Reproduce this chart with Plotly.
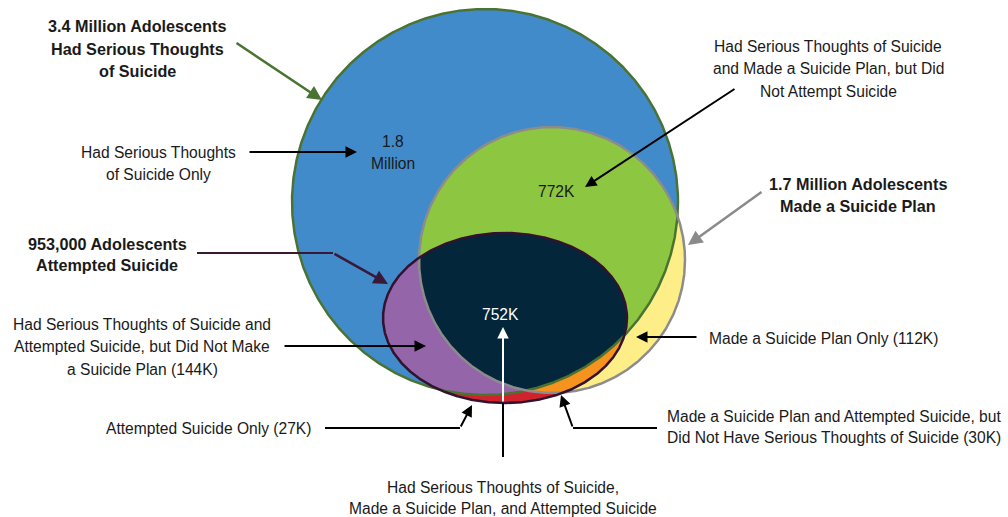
import numpy as np
import plotly.graph_objects as go

# ---- data ----
set_names = ["Had Serious Thoughts of Suicide", "Made a Suicide Plan", "Attempted Suicide"]
set_totals = ["3.4 Million", "1.7 Million", "953,000"]
region_values = {
    "thoughts_only": "1.8<br>Million",
    "thoughts_plan": "772K",
    "all_three": "752K",
    "plan_only": "112K",
    "thoughts_attempt": "144K",
    "attempt_only": "27K",
    "plan_attempt": "30K",
}

# ---- geometry of the three sets (page pixel space) ----
blue_c = (485, 202, 193, 193)
plan_c = (552, 260, 133, 133)
att_c = (505, 318, 122, 85)

C_BLUE = "#428BCA"
C_GREEN = "#8DC641"
C_YELLOW = "#FEEE87"
C_PURPLE = "#9565AA"
C_NAVY = "#03263B"
C_RED = "#D0232B"
C_ORANGE = "#F6921E"

FONT = "Liberation Sans, Arial, Helvetica, sans-serif"
REG = 15.6
BOLD = 16.2


def boundary(s, n=1440):
    cx, cy, rx, ry = s
    t = np.linspace(0, 2 * np.pi, n, endpoint=False)
    return cx + rx * np.cos(t), cy + ry * np.sin(t)


def inside(s, x, y):
    cx, cy, rx, ry = s
    return ((x - cx) / rx) ** 2 + ((y - cy) / ry) ** 2 <= 1 + 1e-9


def intersect(shapes):
    xs, ys = [], []
    for i, s in enumerate(shapes):
        bx, by = boundary(s)
        m = np.ones_like(bx, dtype=bool)
        for j, o in enumerate(shapes):
            if j != i:
                m &= inside(o, bx, by)
        xs.append(bx[m])
        ys.append(by[m])
    x = np.concatenate(xs)
    y = np.concatenate(ys)
    mx, my = x.mean(), y.mean()
    order = np.argsort(np.arctan2(y - my, x - mx))
    x, y = x[order], y[order]
    return np.append(x, x[0]), np.append(y, y[0])


fig = go.Figure()


def fill(x, y, color):
    fig.add_trace(go.Scatter(x=x, y=y, mode="lines", fill="toself", fillcolor=color,
                             line=dict(width=0, color=color), hoverinfo="skip", showlegend=False))


def outline(s, color, w=2.5):
    x, y = boundary(s)
    fig.add_trace(go.Scatter(x=np.append(x, x[0]), y=np.append(y, y[0]), mode="lines",
                             line=dict(width=w, color=color), hoverinfo="skip", showlegend=False))


fill(*intersect([plan_c]), C_YELLOW)
fill(*intersect([att_c]), C_RED)
fill(*intersect([plan_c, att_c]), C_ORANGE)
fill(*intersect([blue_c]), C_BLUE)
fill(*intersect([blue_c, plan_c]), C_GREEN)
fill(*intersect([blue_c, att_c]), C_PURPLE)
fill(*intersect([blue_c, plan_c, att_c]), C_NAVY)

outline(blue_c, "#4A7332")
outline(plan_c, "#8C8C8C")
outline(att_c, "#33122F")


def polyline(xs, ys, color, w=2):
    fig.add_trace(go.Scatter(x=xs, y=ys, mode="lines", line=dict(width=w, color=color),
                             hoverinfo="skip", showlegend=False))


def arrow(tail, head, color="black", w=2):
    fig.add_annotation(x=head[0], y=head[1], ax=tail[0], ay=tail[1], xref="x", yref="y",
                       axref="x", ayref="y", text="", showarrow=True, arrowhead=2,
                       arrowsize=1.15, arrowwidth=w, arrowcolor=color, standoff=0)


def label(x, y0, text, dy=22, size=REG, bold=False, color="#1a1a1a", xanchor="center"):
    for k, line in enumerate(text.split("<br>")):
        t = f"<b>{line}</b>" if bold else line
        fig.add_annotation(x=x, y=y0 + k * dy, xref="x", yref="y", text=t, showarrow=False,
                           font=dict(family=FONT, size=size, color=color),
                           xanchor=xanchor, yanchor="middle")


# bent leader lines
polyline([197, 333], [253, 253], "#3A1838")
polyline([325, 460], [428, 428], "black")
polyline([657, 573], [428, 428], "black")
polyline([503, 503], [457, 403], "black")

arrow((235, 42), (322, 100), "#4A7332", 2.5)
arrow((248, 152), (357, 152))
arrow((736, 88), (585, 187))
arrow((763, 191), (688, 245), "#8A8A8A", 2.5)
arrow((333, 253), (388, 284), "#3A1838", 2.5)
arrow((283, 346), (426, 346))
arrow((698, 337), (636, 337))
arrow((460, 428), (472, 405))
arrow((573, 428), (561, 395))
arrow((503, 403), (503, 327), "white")

# labels
label(137, 26, f"{set_totals[0]} Adolescents<br>Had Serious Thoughts<br>of Suicide", 22.5, BOLD, True)
label(158, 152, "Had Serious Thoughts<br>of Suicide Only")
label(393, 141, region_values["thoughts_only"])
label(556, 191, region_values["thoughts_plan"])
label(828, 46, "Had Serious Thoughts of Suicide<br>and Made a Suicide Plan, but Did<br>Not Attempt Suicide", 22.5)
label(858, 184, f"{set_totals[1]} Adolescents<br>{set_names[1]}", 22, BOLD, True)
label(107, 244, f"{set_totals[2]} Adolescents<br>{set_names[2]}", 20.5, BOLD, True)
label(142, 324, "Had Serious Thoughts of Suicide and<br>Attempted Suicide, but Did Not Make<br>"
      f"a Suicide Plan ({region_values['thoughts_attempt']})", 22.5)
label(500, 314, region_values["all_three"], color="white")
label(707, 338, f"Made a Suicide Plan Only ({region_values['plan_only']})", xanchor="left")
label(208, 428, f"Attempted Suicide Only ({region_values['attempt_only']})")
label(834, 416, "Made a Suicide Plan and Attempted Suicide, but<br>"
      f"Did Not Have Serious Thoughts of Suicide ({region_values['plan_attempt']})", 21)
label(503, 487, "Had Serious Thoughts of Suicide,<br>Made a Suicide Plan, and Attempted Suicide", 21)

fig.update_layout(
    width=1008, height=517, margin=dict(l=0, r=0, t=0, b=0),
    paper_bgcolor="white", plot_bgcolor="white",
    xaxis=dict(range=[0, 1008], visible=False, fixedrange=True),
    yaxis=dict(range=[517, 0], visible=False, fixedrange=True),
    showlegend=False,
)

fig.write_html("out.html", config={"displayModeBar": False, "staticPlot": True},
               post_script="document.body.style.margin='0';document.body.style.overflow='hidden';")
